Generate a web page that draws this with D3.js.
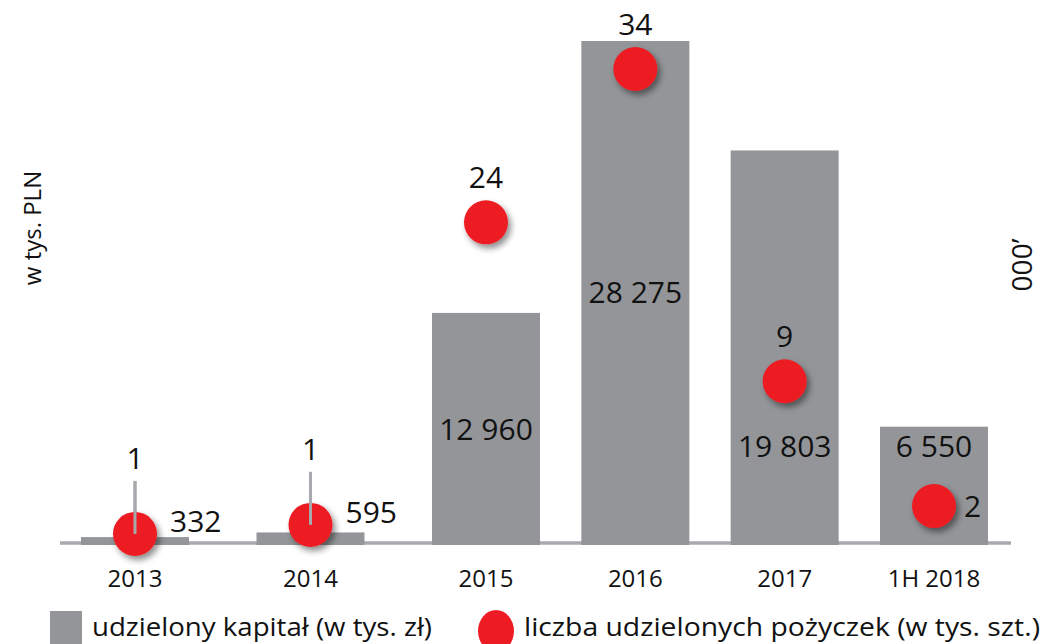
<!DOCTYPE html>
<html>
<head>
<meta charset="utf-8">
<script src="https://cdn.jsdelivr.net/npm/d3@7"></script>
<style>
  body { margin: 0; background: #fff; }
  svg { display: block; font-family: 'Open Sans', sans-serif; }
</style>
</head>
<body>
<script>
// categories and values
const years = ['2013', '2014', '2015', '2016', '2017', '1H 2018']
// bar heights as drawn (2017 bar is drawn taller than its label)
const capital = [332, 595, 12960, 28275, 22110, 6550]
const capitalLabels = ['332', '595', '12 960', '28 275', '19 803', '6 550']
// dot positions as drawn, and their printed labels
const loans = [0.65, 1.3, 23.0, 34, 11.6, 2.65]
const loansLabels = ['1', '1', '24', '34', '9', '2']

const w = 1044
const h = 644
const base = 543

const gray = '#939598'
const axisGray = '#a7a9ac'
const red = '#ed1c24'

const svg = d3.select('body').append('svg').attr('width', w).attr('height', h)

const defs = svg.append('defs')
const f = defs.append('filter').attr('id', 'shadow')
  .attr('x', '-50%').attr('y', '-50%').attr('width', '200%').attr('height', '200%')
f.append('feDropShadow')
  .attr('dx', 3).attr('dy', 4).attr('stdDeviation', 3)
  .attr('flood-color', '#000').attr('flood-opacity', 0.45)

// piecewise x: first two categories are spaced wider than the rest
const xScale = d3.scaleLinear().domain([0, 2, 5]).range([135, 486, 934])
const barW = 108

const yScale = d3.scaleLinear().domain([0, 28275]).range([base, 41])
const yDots = d3.scaleLinear().domain([0, 34]).range([base, 69])

// baseline
svg.append('line')
  .attr('x1', 60).attr('x2', 1011)
  .attr('y1', base).attr('y2', base)
  .attr('stroke', axisGray).attr('stroke-width', 3.3)

svg.selectAll('rect.bar')
  .data(capital)
  .enter()
  .append('rect')
  .attr('class', 'bar')
  .attr('x', (d, i) => xScale(i) - barW / 2)
  .attr('y', (d) => yScale(d))
  .attr('width', barW)
  .attr('height', (d) => base + 2 - yScale(d))
  .attr('fill', gray)

// year labels
svg.selectAll('text.year')
  .data(years)
  .enter()
  .append('text')
  .attr('class', 'year')
  .attr('x', (d, i) => xScale(i))
  .attr('y', 587)
  .attr('text-anchor', 'middle')
  .attr('font-size', 24)
  .attr('fill', '#111')
  .text((d) => d)

// capital labels: small bars get them at the right, others inside
const capLabelY = [null, null, 440, 303, 457, 457]
svg.selectAll('text.cap')
  .data(capitalLabels)
  .enter()
  .append('text')
  .attr('class', 'cap')
  .attr('x', (d, i) => (i < 2 ? xScale(i) + 35 : xScale(i)))
  .attr('y', (d, i) => (i < 2 ? yScale(capital[i]) - (i === 0 ? 5 : 9) : capLabelY[i]))
  .attr('text-anchor', (d, i) => (i < 2 ? 'start' : 'middle'))
  .attr('font-size', 30)
  .attr('fill', '#111')
  .text((d) => d)

// stems for the two small dots
const stem = (cls) => svg.selectAll('line.' + cls)
  .data(loans.slice(0, 2))
  .enter()
  .append('line')
  .attr('class', cls)
  .attr('x1', (d, i) => xScale(i))
  .attr('x2', (d, i) => xScale(i))
  .attr('y1', (d) => yDots(d))
  .attr('y2', (d) => yDots(d) - 53)
  .attr('stroke', axisGray)
  .attr('stroke-width', 3)

stem('stem')

svg.selectAll('circle.dot')
  .data(loans)
  .enter()
  .append('circle')
  .attr('class', 'dot')
  .attr('cx', (d, i) => xScale(i))
  .attr('cy', (d) => yDots(d))
  .attr('r', 22)
  .attr('fill', red)
  .attr('filter', 'url(#shadow)')

// stems again on top so they show over the dots
stem('stemTop')

svg.selectAll('text.loan')
  .data(loansLabels)
  .enter()
  .append('text')
  .attr('class', 'loan')
  .attr('x', (d, i) => (i === 5 ? xScale(i) + 30 : xScale(i)))
  .attr('y', (d, i) => {
    const cy = yDots(loans[i])
    if (i < 2) return cy - 65
    if (i === 5) return cy + 11
    return cy - 34
  })
  .attr('text-anchor', (d, i) => (i === 5 ? 'start' : 'middle'))
  .attr('font-size', 30)
  .attr('fill', '#111')
  .text((d) => d)

// axis titles
svg.append('text')
  .attr('transform', 'translate(41,228) rotate(-90)')
  .attr('text-anchor', 'middle')
  .attr('font-size', 24)
  .attr('fill', '#111')
  .text('w tys. PLN')

svg.append('text')
  .attr('transform', 'translate(1032,265) rotate(-90)')
  .attr('text-anchor', 'middle')
  .attr('font-size', 28)
  .attr('fill', '#111')
  .text('000’')

// legend
svg.append('rect')
  .attr('x', 50).attr('y', 611).attr('width', 32).attr('height', 36)
  .attr('fill', gray)
svg.append('text')
  .attr('x', 92).attr('y', 636)
  .attr('font-size', 26)
  .attr('textLength', 340).attr('lengthAdjust', 'spacingAndGlyphs')
  .attr('fill', '#111')
  .text('udzielony kapitał (w tys. zł)')

svg.append('ellipse')
  .attr('cx', 496).attr('cy', 631).attr('rx', 18).attr('ry', 21)
  .attr('fill', red)
svg.append('text')
  .attr('x', 524).attr('y', 636)
  .attr('font-size', 26)
  .attr('textLength', 516).attr('lengthAdjust', 'spacingAndGlyphs')
  .attr('fill', '#111')
  .text('liczba udzielonych pożyczek (w tys. szt.)')
</script>
</body>
</html>
